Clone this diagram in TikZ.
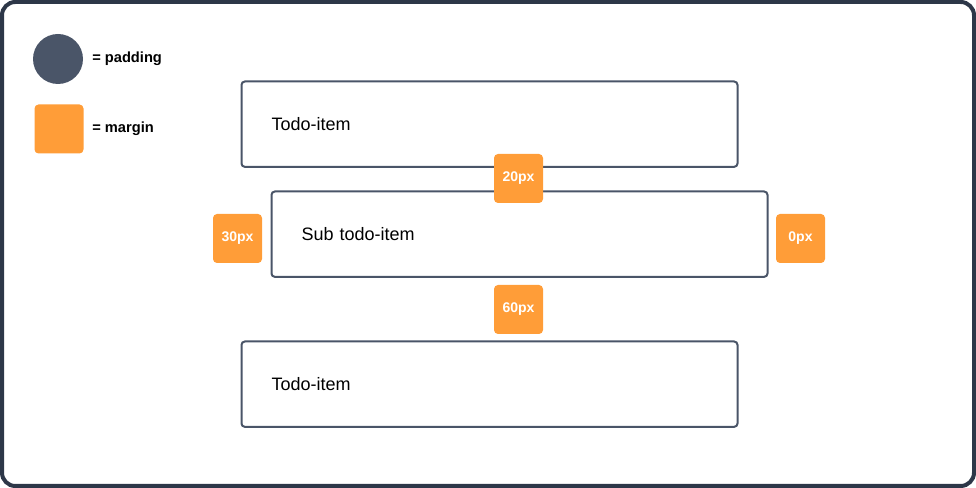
\documentclass[tikz,border=0pt]{standalone}
\usepackage{fontspec}
\setmainfont{Liberation Sans}
\usetikzlibrary{positioning}
\definecolor{framedark}{HTML}{2D3748}
\definecolor{boxgray}{HTML}{4A5568}
\definecolor{marginorange}{HTML}{FF9D38}
\tikzset {
    todobox/.style = {draw = boxgray, line width = 1.5pt, rounded corners = 2.5pt,
        minimum width = 372pt, minimum height = 64pt, anchor = north west,
        text width = 327pt, align = left, inner xsep = 22.5pt,
        font = \fontsize{13.5}{16}\selectfont},
    marginbadge/.style = {fill = marginorange, rounded corners = 3pt,
        minimum size = 36.75pt, inner sep = 0pt, text = white,
        font = \bfseries\fontsize{10.5}{12}\selectfont},
    legendtext/.style = {anchor = west, inner sep = 0pt,
        font = \bfseries\fontsize{11}{13}\selectfont},
}
\begin{document}
\begin{tikzpicture}[x = 0.75pt, y = -0.75pt]
    \useasboundingbox (0, 0) rectangle (976, 488);
    % outer frame
    \draw [framedark, line width = 3pt, rounded corners = 10pt] (2, 2) rectangle (974, 486);
    % legend
    \node (padkey) [circle, fill = boxgray, minimum size = 37.5pt, inner sep = 0pt] at (58, 59) {};
    \node (padtext) [legendtext] at (92, 59) {= padding};
    \node (marginkey) [marginbadge] at (59, 129) {};
    \node (margintext) [legendtext] at (92, 129) {= margin};
    % items
    \node (topitem) [todobox] at (240.5, 80.5) {Todo-item};
    \node (subitem) [todobox] at (270.5, 190.5) {Sub todo-item};
    \node (bottomitem) [todobox] at (240.5, 340.5) {Todo-item};
    % margins
    \node (topmargin) [marginbadge] at (518.5, 178.5) {20px};
    \node (leftmargin) [marginbadge] at (237.5, 238.5) {30px};
    \node (rightmargin) [marginbadge] at (800.5, 238.5) {0px};
    \node (bottommargin) [marginbadge] at (518.5, 309.5) {60px};
\end{tikzpicture}
\end{document}
